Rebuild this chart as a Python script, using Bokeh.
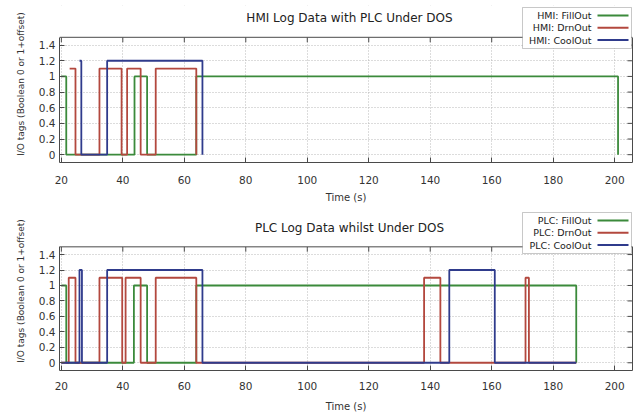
from bokeh.plotting import figure
from bokeh.models import (FixedTicker, LinearAxis, Range1d, Label, Span, BoxAnnotation)
from bokeh.layouts import column
from bokeh.embed import file_html
from bokeh.resources import INLINE

# ---- data (time in s, value = boolean 0 or 1 + offset) ----
x_ticks = [20, 40, 60, 80, 100, 120, 140, 160, 180, 200]
y_ticks = [0, 0.2, 0.4, 0.6, 0.8, 1.0, 1.2, 1.4]
y_tick_labels = ["0", "0.2", "0.4", "0.6", "0.8", "1", "1.2", "1.4"]

hmi_fill_t = [20, 21.6, 43.8, 47.9, 63.9, 201.1]
hmi_fill_v = [1, 0, 1, 0, 1, 0]
hmi_drn_t = [22.7, 24.6, 32.4, 39.6, 41.4, 45.8, 50.7, 63.9]
hmi_drn_v = [1.1, 0, 1.1, 0, 1.1, 0, 1.1, 0]
hmi_cool_t = [25.9, 26.5, 34.9, 65.9]
hmi_cool_v = [1.2, 0, 1.2, 0]

plc_fill_t = [20, 21.6, 43.6, 47.9, 63.9, 187.5]
plc_fill_v = [1, 0, 1, 0, 1, 0]
plc_drn_t = [20, 22.4, 24.6, 32.4, 39.8, 40.9, 45.8, 50.7, 63.9, 138.0, 143.3, 171.0, 172.1, 187.5]
plc_drn_v = [0, 1.1, 0, 1.1, 0, 1.1, 0, 1.1, 0, 1.1, 0, 1.1, 0, 0]
plc_cool_t = [20, 25.9, 26.7, 34.9, 65.9, 146.2, 161.0, 187.5]
plc_cool_v = [0, 1.2, 0, 1.2, 0, 1.2, 0, 0]

hmi_labels = ["HMI: FillOut", "HMI: DrnOut", "HMI: CoolOut"]
plc_labels = ["PLC: FillOut", "PLC: DrnOut", "PLC: CoolOut"]
titles = ["HMI Log Data with PLC Under DOS", "PLC Log Data whilst Under DOS"]
x_label = "Time (s)"
y_label = "I/O tags (Boolean 0 or 1+offset)"

X_MIN, X_MAX = 19.4, 205.8
Y_MIN, Y_MAX = -0.1, 1.5

colors = ["#3b8a3b", "#b3483e", "#2f3b8c"]
FONT = "DejaVu Sans"
FRAME = "#4a4a4a"
BORDER_L, BORDER_R, FIG_W = 59, 7, 639
BOX_H = 126          # visible plot box height in px
PX_PER_Y = BOX_H / (Y_MAX - Y_MIN)
PX_PER_X = (FIG_W - BORDER_L - BORDER_R) / (X_MAX - X_MIN)


def make(title, series, labels, height, top_pad, extra_px, bbottom,
         leg_top, title_y, lstand, astand):
    y_top = Y_MAX + extra_px / PX_PER_Y
    p = figure(width=FIG_W, height=height, output_backend="svg", toolbar_location=None,
               x_range=Range1d(X_MIN, X_MAX), y_range=Range1d(Y_MIN, y_top),
               min_border_left=BORDER_L, min_border_right=BORDER_R,
               min_border_top=top_pad, min_border_bottom=bbottom)
    p.outline_line_color = None
    p.background_fill_color = "white"
    p.border_fill_color = "white"

    for ax in p.xaxis:
        ax.ticker = FixedTicker(ticks=x_ticks)
        ax.axis_label = x_label
        ax.major_label_standoff = lstand
        ax.axis_label_standoff = astand
        ax.axis_label_text_font_size = "10px"
    for ax in p.yaxis:
        ax.ticker = FixedTicker(ticks=y_ticks)
        ax.bounds = (Y_MIN, Y_MAX)
        ax.major_label_overrides = {t: s for t, s in zip(y_ticks, y_tick_labels)}
        ax.axis_label = y_label
        ax.major_label_standoff = 4
        ax.axis_label_standoff = 10
        ax.axis_label_text_font_size = "9px"
    for ax in list(p.xaxis) + list(p.yaxis):
        ax.axis_line_color = FRAME
        ax.major_tick_line_color = FRAME
        ax.major_tick_in = 5
        ax.major_tick_out = 0
        ax.minor_tick_line_color = None
        ax.major_label_text_font = FONT
        ax.major_label_text_font_size = "10.5px"
        ax.major_label_text_color = "#333333"
        ax.axis_label_text_font = FONT
        ax.axis_label_text_font_style = "normal"
        ax.axis_label_text_color = "#333333"

    # right edge of the box (line only)
    ra = LinearAxis(ticker=FixedTicker(ticks=[]), bounds=(Y_MIN, Y_MAX),
                    major_tick_in=0, major_tick_out=0, minor_tick_line_color=None,
                    axis_line_color=FRAME)
    p.add_layout(ra, "right")

    p.grid.grid_line_color = "#b8b8b8"
    p.grid.grid_line_dash = "1 2"
    p.grid.grid_line_width = 1

    # mirrored ticks on the top and right edges of the box
    tly = 5 / PX_PER_Y
    tlx = 5 / PX_PER_X
    p.segment(x0=x_ticks, y0=[Y_MAX] * len(x_ticks), x1=x_ticks,
              y1=[Y_MAX - tly] * len(x_ticks), line_color=FRAME, line_width=1)
    p.segment(x0=[X_MAX - tlx] * len(y_ticks), y0=y_ticks, x1=[X_MAX] * len(y_ticks),
              y1=y_ticks, line_color=FRAME, line_width=1)

    for (t, v), c in zip(series, colors):
        p.step(t, v, mode="after", line_color=c, line_width=1.8)

    # blank the area above the plot box (title / key area)
    p.add_layout(BoxAnnotation(bottom=Y_MAX, fill_color="white", fill_alpha=1,
                               line_color=None))
    p.add_layout(Span(location=Y_MAX, dimension="width", line_color=FRAME, line_width=1))

    p.add_layout(Label(x=290, y=title_y, x_units="screen", y_units="screen", text=title,
                       text_font=FONT, text_font_size="12px", text_color="#222222",
                       text_align="center", text_baseline="middle"))

    # key: right-aligned text followed by a line sample (gnuplot style)
    kl, kw, kh = 463, 109, 41
    p.add_layout(BoxAnnotation(left=kl, right=kl + kw, top=leg_top, bottom=leg_top - kh,
                               left_units="screen", right_units="screen",
                               top_units="screen", bottom_units="screen",
                               fill_color="white", fill_alpha=1,
                               line_color=FRAME, line_width=1))
    for i, (lab, c) in enumerate(zip(labels, colors)):
        ry = leg_top - 8 - 12.3 * i
        p.add_layout(Label(x=kl + 69, y=ry, x_units="screen", y_units="screen", text=lab,
                           text_font=FONT, text_font_size="9.5px", text_color="#222222",
                           text_align="right", text_baseline="middle"))
        p.add_layout(BoxAnnotation(left=kl + 75, right=kl + 106, top=ry + 1, bottom=ry - 1,
                                   left_units="screen", right_units="screen",
                                   top_units="screen", bottom_units="screen",
                                   fill_color=c, fill_alpha=1, line_color=None))
    return p


p1 = make(titles[0],
          [(hmi_fill_t, hmi_fill_v), (hmi_drn_t, hmi_drn_v), (hmi_cool_t, hmi_cool_v)],
          hmi_labels, 205, 5, 32, 42, 155, 145, 13, 5)
p2 = make(titles[1],
          [(plc_fill_t, plc_fill_v), (plc_drn_t, plc_drn_v), (plc_cool_t, plc_cool_v)],
          plc_labels, 209, 6, 36, 41, 158, 143, 11, 8)

layout = column(p1, p2, spacing=0)
open("out.html", "w").write(file_html(layout, INLINE))
